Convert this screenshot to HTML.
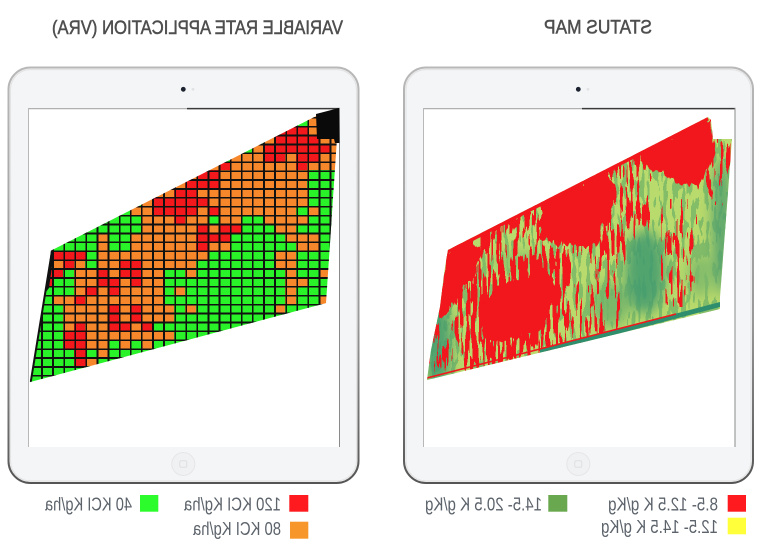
<!DOCTYPE html>
<html><head><meta charset="utf-8">
<style>
html,body{margin:0;padding:0;background:#fff;}
body{width:770px;height:550px;position:relative;overflow:hidden;}
svg{position:absolute;left:0;top:0;}
.grid{position:absolute;left:30px;top:108.1px;width:310.8px;height:284.8px;display:flex;flex-direction:column;
clip-path:polygon(22px 142px,292px 5px,309px 0px,296px 195px,0px 274px);}
.grid>div{flex:1 1 0;display:flex;}
.grid>div>*{flex:1 1 0;display:block;text-decoration:none;}
.grid b{background:#f3181c}.grid i{background:#f7872b}.grid u{background:#29f229}.grid s{background:#111}
.grid::after{content:"";position:absolute;left:0;top:0;right:0;bottom:0;
background:repeating-linear-gradient(to right,#111 0px,#111 1.7px,transparent 1.7px,transparent 11.1px),
repeating-linear-gradient(to bottom,#111 0px,#111 1.7px,transparent 1.7px,transparent 8.9px);}
</style></head><body>
<svg width="770" height="550" viewBox="0 0 770 550">
<defs>
<linearGradient id="frame" x1="0" y1="0" x2="0" y2="1"><stop offset="0" stop-color="#b8b8b8"/><stop offset="0.6" stop-color="#9a9a9a"/><stop offset="1" stop-color="#555"/></linearGradient>
<clipPath id="sm"><polygon points="448,250 708,117 711,120 713,139 732,139 720,297 720,309 427,380 431,350 440,307 445,267"/></clipPath>
<filter id="bl" x="-50%" y="-50%" width="200%" height="200%"><feGaussianBlur stdDeviation="6"/></filter>
<filter id="redfx" filterUnits="userSpaceOnUse" x="420" y="110" width="320" height="280" color-interpolation-filters="sRGB">
<feGaussianBlur in="SourceGraphic" stdDeviation="5" result="dens"/>
<feTurbulence type="fractalNoise" baseFrequency="0.3 0.035" numOctaves="2" seed="7" result="nz"/>
<feColorMatrix in="nz" type="matrix" values="0 0 0 0 0  0 0 0 0 0  0 0 0 0 0  0 0 0 3.5 -1.25" result="na"/>
<feComposite in="dens" in2="na" operator="arithmetic" k1="0" k2="1" k3="1" k4="-0.68" result="sum"/>
<feComponentTransfer in="sum" result="th"><feFuncA type="discrete" tableValues="0 1"/></feComponentTransfer>
<feFlood flood-color="#f2171c" result="fl"/>
<feComposite in="fl" in2="th" operator="in"/>
</filter>
<filter id="gnfx" filterUnits="userSpaceOnUse" x="420" y="110" width="320" height="280" color-interpolation-filters="sRGB">
<feTurbulence type="fractalNoise" baseFrequency="0.22 0.05" numOctaves="2" seed="2" result="nz"/>
<feColorMatrix in="nz" type="matrix" values="0 0 0 0 0  0 0 0 0 0  0 0 0 0 0  0 0 0 3.5 -1.4" result="na"/>
<feComponentTransfer in="na" result="th"><feFuncA type="discrete" tableValues="0 1"/></feComponentTransfer>
<feFlood flood-color="#84bd68" result="fl"/>
<feComposite in="fl" in2="th" operator="in"/>
</filter>
<filter id="rough" filterUnits="userSpaceOnUse" x="420" y="110" width="320" height="280" color-interpolation-filters="sRGB">
<feTurbulence type="fractalNoise" baseFrequency="0.2 0.05" numOctaves="2" seed="4" result="t"/>
<feDisplacementMap in="SourceGraphic" in2="t" scale="14" xChannelSelector="A" yChannelSelector="B"/>
</filter>
</defs>

<!-- Titles -->
<g font-family="'Liberation Sans', Arial, sans-serif">
<text transform="scale(-1,1)" x="-343" y="34" font-size="19" textLength="291" lengthAdjust="spacingAndGlyphs" fill="#4e4e4e" stroke="#4e4e4e" stroke-width="0.5">VARIABLE RATE APPLICATION (VRA)</text>
<text transform="scale(-1,1)" x="-652" y="33.5" font-size="19" textLength="108" lengthAdjust="spacingAndGlyphs" fill="#4e4e4e" stroke="#4e4e4e" stroke-width="0.5">STATUS MAP</text>
</g>

<!-- Left tablet -->
<rect x="8.5" y="67.5" width="350" height="415.5" rx="22" fill="#f4f5f7" stroke="url(#frame)" stroke-width="2"/>
<rect x="10.5" y="69.5" width="346" height="411.5" rx="20" fill="none" stroke="#e4e4e4" stroke-width="1.2"/>
<rect x="28" y="108" width="312" height="339" fill="#fff"/>
<line x1="28" y1="108.6" x2="187" y2="108.6" stroke="#b0b0b0" stroke-width="1.3"/>
<line x1="187" y1="108.6" x2="340" y2="108.6" stroke="#3a3a3a" stroke-width="1.5"/>
<line x1="28.5" y1="108" x2="28.5" y2="447" stroke="#b8b8b8" stroke-width="1"/>
<line x1="339.5" y1="108" x2="339.5" y2="447" stroke="#8a8a8a" stroke-width="1"/>
<circle cx="183.3" cy="89.3" r="2.4" fill="#1d2230"/>
<circle cx="193" cy="89.3" r="1.4" fill="#e2e2e2"/>
<circle cx="183.3" cy="464" r="11.5" fill="#f0f1f3" stroke="#e6e6e8" stroke-width="1"/>
<rect x="179.8" y="460.8" width="7" height="6.4" rx="1.5" fill="none" stroke="#dcdcdc" stroke-width="0.8"/>

<!-- Right tablet -->
<rect x="404" y="67.5" width="349" height="415.5" rx="22" fill="#f4f5f7" stroke="url(#frame)" stroke-width="2"/>
<rect x="406" y="69.5" width="345" height="411.5" rx="20" fill="none" stroke="#e4e4e4" stroke-width="1.2"/>
<rect x="423" y="108" width="312.5" height="339" fill="#fff"/>
<line x1="423" y1="108.6" x2="582" y2="108.6" stroke="#b0b0b0" stroke-width="1.3"/>
<line x1="582" y1="108.6" x2="735.5" y2="108.6" stroke="#3a3a3a" stroke-width="1.5"/>
<line x1="423.5" y1="108" x2="423.5" y2="447" stroke="#b8b8b8" stroke-width="1"/>
<line x1="735" y1="108" x2="735" y2="447" stroke="#8a8a8a" stroke-width="1"/>
<circle cx="578.3" cy="89.3" r="2.4" fill="#1d2230"/>
<circle cx="588" cy="89.3" r="1.4" fill="#e2e2e2"/>
<circle cx="578.3" cy="464" r="11.5" fill="#f0f1f3" stroke="#e6e6e8" stroke-width="1"/>
<rect x="574.8" y="460.8" width="7" height="6.4" rx="1.5" fill="none" stroke="#dcdcdc" stroke-width="0.8"/>

<!-- Status map -->
<g clip-path="url(#sm)">
<rect x="420" y="110" width="320" height="280" fill="#b9da6c"/>
<rect x="420" y="110" width="320" height="280" fill="#000" filter="url(#gnfx)"/>
<g filter="url(#bl)" opacity="0.85">
<ellipse cx="438" cy="345" rx="14" ry="45" fill="#3e9870"/>
<ellipse cx="645" cy="272" rx="20" ry="42" fill="#3f9a70"/>
<ellipse cx="610" cy="305" rx="20" ry="22" fill="#6fb26a"/>
<ellipse cx="722" cy="225" rx="10" ry="70" fill="#4f9f6e"/>
<ellipse cx="700" cy="275" rx="12" ry="22" fill="#7cb86a"/>
<ellipse cx="520" cy="262" rx="26" ry="10" fill="#86c06a"/>
</g>
<g filter="url(#redfx)">
<rect x="420" y="110" width="320" height="280" fill="#fff" fill-opacity="0.15"/>
<rect x="420" y="110" width="200" height="280" fill="#fff" fill-opacity="0.15"/>
<polyline points="446,255 708,121" fill="none" stroke="#fff" stroke-width="14"/>
<polygon fill="#fff" fill-opacity="0.85" points="462,287 495,260 515,257 548,250 568,247 572,287 568,333 555,347 515,357 482,365 462,367"/>
<rect x="668" y="205" width="22" height="95" fill="#fff" fill-opacity="0.45"/>
<rect x="712" y="140" width="20" height="60" fill="#fff" fill-opacity="0.3"/>
<polygon fill="#fff" fill-opacity="0.45" points="600,185 645,172 645,230 625,240 610,290 600,300"/>
<polygon fill="#fff" fill-opacity="0.25" points="482,250 540,215 545,245 500,258 480,270"/>
</g>
<g filter="url(#rough)" fill="#f2171c">
<polygon points="640,152 708,117 714,139 716,150 710,168 702,182 688,188 674,180 660,172 648,168 640,162"/>
<polygon points="540,203 605,170 614,186 610,212 602,238 590,248 572,246 556,242 540,240"/>
<polygon points="448,250 470,240 482,248 476,272 462,294 448,312 438,318 442,287"/>
<polygon points="482,305 505,283 538,274 552,277 552,305 545,328 520,338 494,343 482,338"/>
</g>
<line x1="448" y1="251.5" x2="708" y2="118.5" stroke="#f2171c" stroke-width="4"/>
<polygon points="540,349.5 720,302 720,307 540,354.5" fill="#2e8e6d"/>
<line x1="427" y1="378" x2="676" y2="314" stroke="#f2171c" stroke-width="1.6"/>
</g>

<!-- Legends -->
<rect x="289.3" y="495" width="19" height="16.7" fill="#fe1a1f"/>
<rect x="290" y="521.7" width="18.3" height="17" fill="#f7962b"/>
<rect x="140" y="495" width="18.3" height="16.7" fill="#2cfc2c"/>
<rect x="727.7" y="495" width="18.3" height="16.7" fill="#fe1a1f"/>
<rect x="727.7" y="517.7" width="18.3" height="16.6" fill="#ffff3a"/>
<rect x="548.3" y="495" width="19" height="16.7" fill="#6aa84f"/>
<g font-family="'Liberation Sans', Arial, sans-serif" font-size="18.5" fill="#5c636b">
<text transform="scale(-1,1)" x="-281" y="510.5" textLength="97" lengthAdjust="spacingAndGlyphs">120 KCI Kg/ha</text>
<text transform="scale(-1,1)" x="-281" y="535" textLength="88" lengthAdjust="spacingAndGlyphs">80 KCI Kg/ha</text>
<text transform="scale(-1,1)" x="-132" y="510.5" textLength="87" lengthAdjust="spacingAndGlyphs">40 KCI Kg/ha</text>
<text transform="scale(-1,1)" x="-718" y="510.5" textLength="110" lengthAdjust="spacingAndGlyphs">8.5- 12.5 K g/Kg</text>
<text transform="scale(-1,1)" x="-718" y="533" textLength="117" lengthAdjust="spacingAndGlyphs">12.5- 14.5 K g/Kg</text>
<text transform="scale(-1,1)" x="-542" y="510.5" textLength="117" lengthAdjust="spacingAndGlyphs">14.5- 20.5 K g/Kg</text>
</g>
</svg>

<div class="grid">
<div><u style="flex:25"></u><i></i><s style="flex:2"></s></div>
<div><u style="flex:25"></u><i></i><s style="flex:2"></s></div>
<div><u style="flex:22"></u><b style="flex:3"></b><i></i><s style="flex:2"></s></div>
<div><u style="flex:21"></u><i></i><b style="flex:4"></b><i style="flex:2"></i></div>
<div><u style="flex:20"></u><i></i><b style="flex:6"></b><i></i></div>
<div><u style="flex:18"></u><i style="flex:3"></i><b style="flex:2"></b><i></i><b style="flex:2"></b><i style="flex:2"></i></div>
<div><u style="flex:16"></u><i></i><b></b><i style="flex:6"></i><b></b><i style="flex:3"></i></div>
<div><u style="flex:14"></u><i></i><b style="flex:2"></b><i style="flex:8"></i><u style="flex:3"></u></div>
<div><u style="flex:13"></u><i></i><b style="flex:3"></b><i style="flex:8"></i><u style="flex:3"></u></div>
<div><u style="flex:11"></u><i style="flex:2"></i><b style="flex:2"></b><i style="flex:10"></i><u style="flex:3"></u></div>
<div><u style="flex:10"></u><i></i><b style="flex:5"></b><i style="flex:9"></i><u style="flex:3"></u></div>
<div><u style="flex:9"></u><i style="flex:2"></i><b style="flex:4"></b><i></i><b></b><i style="flex:7"></i><u></u><i></i><u style="flex:2"></u></div>
<div><u style="flex:10"></u><i style="flex:3"></i><b></b><i style="flex:2"></i><u></u><i style="flex:2"></i><u style="flex:2"></u><i style="flex:4"></i><u style="flex:3"></u></div>
<div><u style="flex:10"></u><i style="flex:5"></i><b></b><i></i><b style="flex:2"></b><u style="flex:3"></u><i style="flex:2"></i><u style="flex:4"></u></div>
<div><u style="flex:6"></u><i></i><u style="flex:2"></u><i style="flex:6"></i><b style="flex:3"></b><u style="flex:5"></u><i style="flex:3"></i><u style="flex:2"></u></div>
<div><u style="flex:6"></u><i></i><u style="flex:2"></u><i style="flex:6"></i><b></b><i style="flex:2"></i><u style="flex:6"></u><i style="flex:2"></i><u style="flex:2"></u></div>
<div><u></u><b style="flex:4"></b><u></u><i style="flex:10"></i><u style="flex:6"></u><i style="flex:2"></i><u style="flex:4"></u></div>
<div><u></u><i style="flex:2"></i><b></b><i></i><u></u><i style="flex:2"></i><b style="flex:2"></b><i style="flex:5"></i><u style="flex:7"></u><i style="flex:2"></i><u style="flex:4"></u></div>
<div><b style="flex:3"></b><u></u><i style="flex:2"></i><b></b><i></i><b style="flex:2"></b><i style="flex:2"></i><u style="flex:2"></u><i></i><u style="flex:8"></u><i></i><u style="flex:2"></u><i></i><u></u></div>
<div><b style="flex:2"></b><u style="flex:2"></u><i style="flex:2"></i><b style="flex:2"></b><i></i><b></b><i style="flex:2"></i><u style="flex:11"></u><i style="flex:2"></i><u style="flex:3"></u></div>
<div><b></b><u style="flex:3"></u><i></i><b></b><i></i><b></b><i style="flex:4"></i><u></u><i></i><u style="flex:9"></u><i></i><u style="flex:4"></u></div>
<div><b></b><u></u><i style="flex:2"></i><b></b><i style="flex:7"></i><u style="flex:11"></u><i></i><u style="flex:2"></u><i style="flex:2"></i></div>
<div><u style="flex:3"></u><i style="flex:4"></i><b></b><i></i><b></b><i style="flex:3"></i><u></u><i></i><u style="flex:7"></u><i></i><u style="flex:5"></u></div>
<div><u style="flex:3"></u><i style="flex:4"></i><b></b><i></i><b></b><i style="flex:3"></i><u style="flex:15"></u></div>
<div><u style="flex:3"></u><i></i><b></b><i style="flex:2"></i><b style="flex:2"></b><i></i><b></b><u style="flex:17"></u></div>
<div><u style="flex:3"></u><b style="flex:2"></b><i style="flex:8"></i><u style="flex:15"></u></div>
<div><u style="flex:3"></u><b style="flex:2"></b><i style="flex:2"></i><u></u><i></i><u></u><i></i><u style="flex:17"></u></div>
<div><u style="flex:4"></u><b></b><u></u><i></i><u style="flex:21"></u></div>
<div><u style="flex:4"></u><b></b><i></i><u style="flex:22"></u></div>
<div><u style="flex:28"></u></div>
<div><u style="flex:28"></u></div>
<div><u style="flex:28"></u></div>
</div>

<svg width="770" height="550" viewBox="0 0 770 550">
<polygon points="316,114 339,108 339.5,143 335,143 334,139 317,139" fill="#0a0a0a"/>
<polygon points="51,250 54,252 49,288 46,292" fill="#111"/>
<line x1="52" y1="251" x2="30.8" y2="381.5" stroke="#111" stroke-width="2"/>
</svg>
</body></html>
